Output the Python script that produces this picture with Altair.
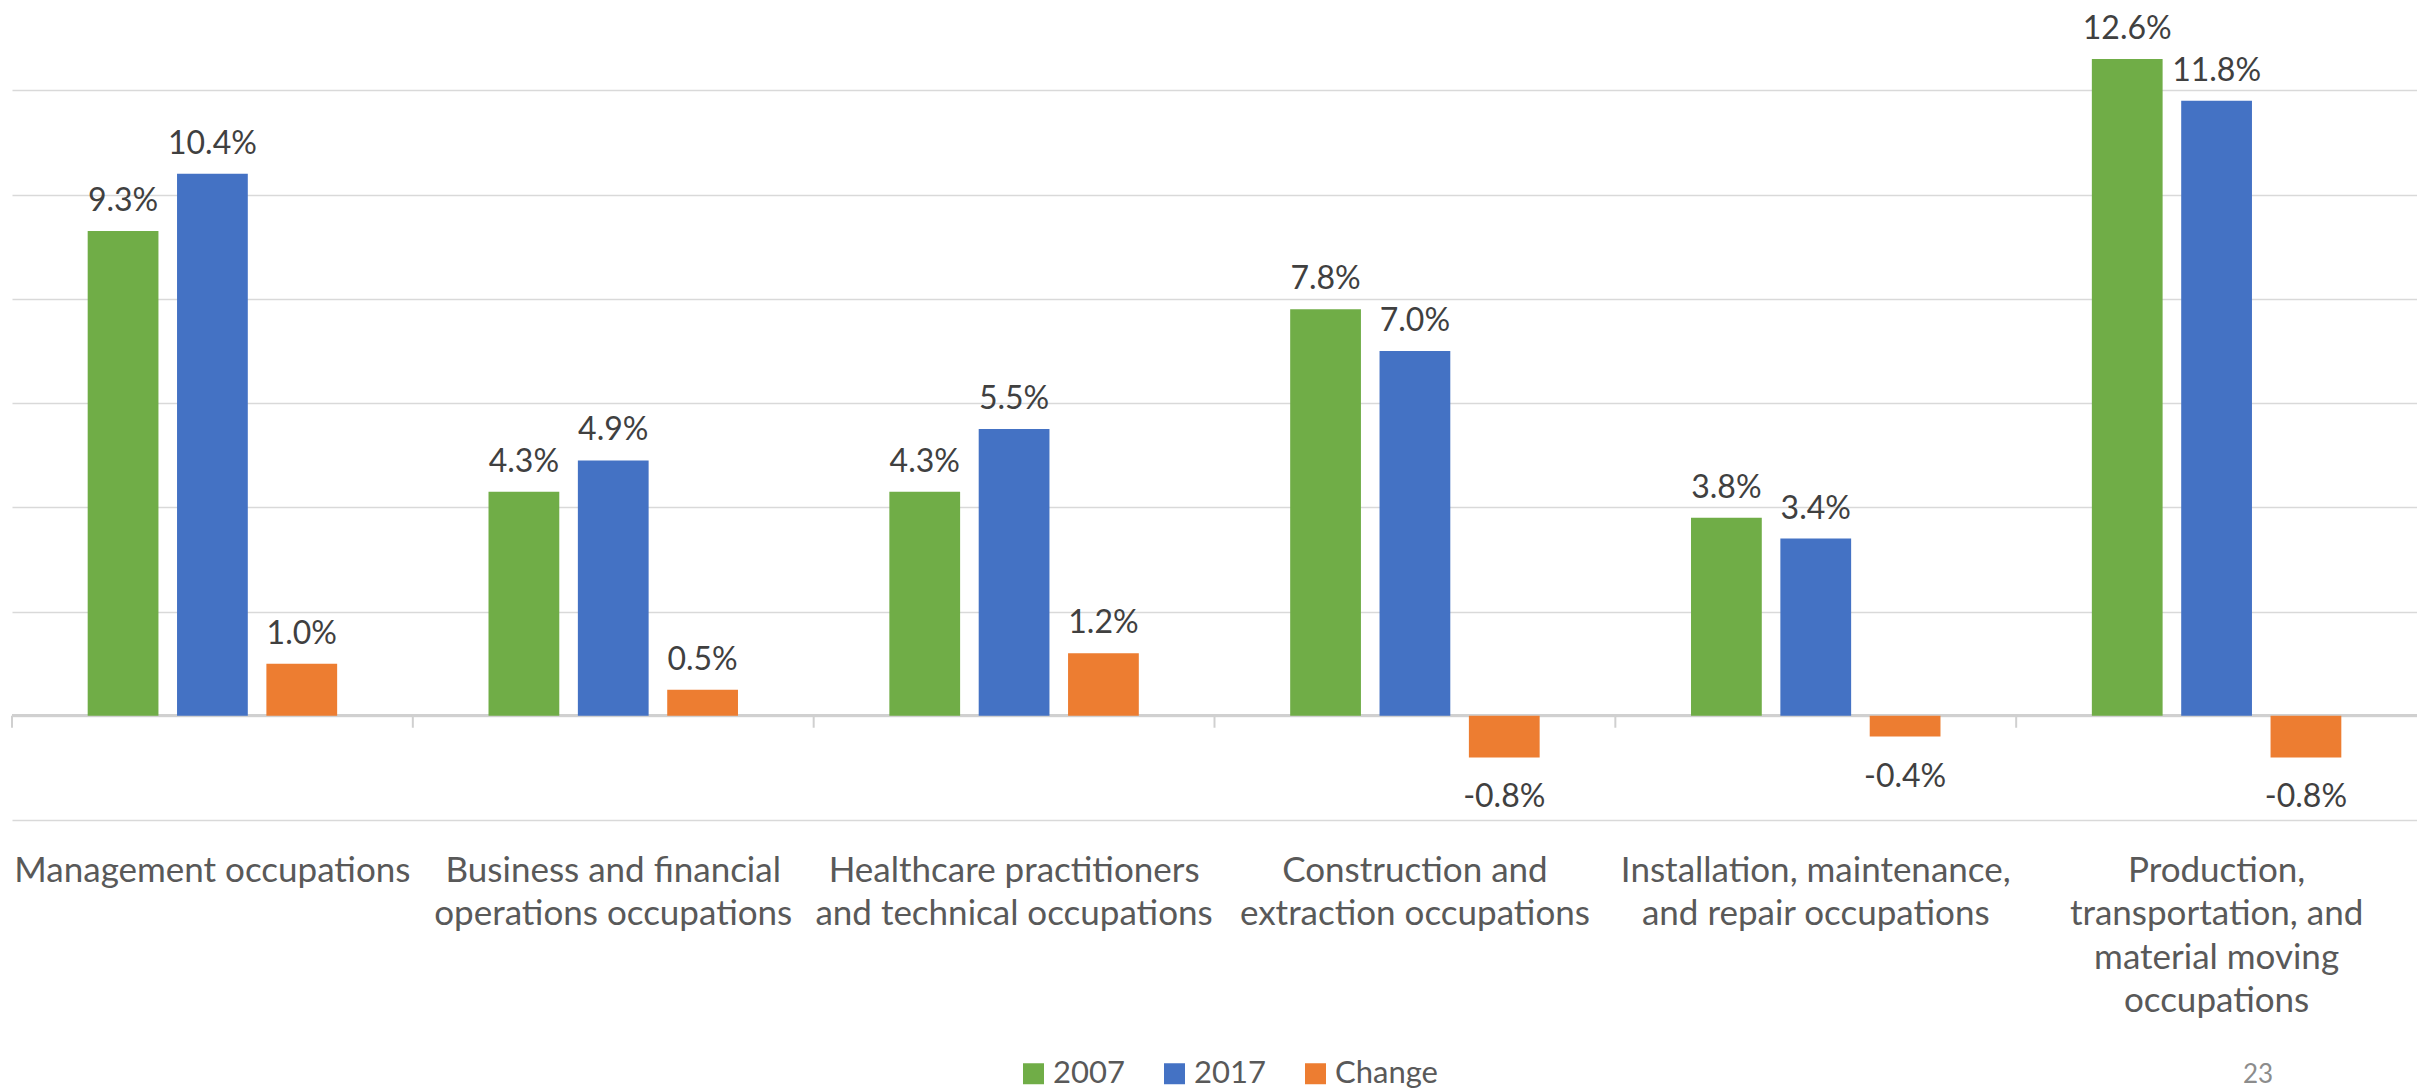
import altair as alt
import pandas as pd

# ---- data ----
categories = [
    "Management occupations",
    "Business and financial\noperations occupations",
    "Healthcare practitioners\nand technical occupations",
    "Construction and\nextraction occupations",
    "Installation, maintenance,\nand repair occupations",
    "Production,\ntransportation, and\nmaterial moving\noccupations",
]
series = ["2007", "2017", "Change"]
values_2007 = [9.3, 4.3, 4.3, 7.8, 3.8, 12.6]
values_2017 = [10.4, 4.9, 5.5, 7.0, 3.4, 11.8]
values_change = [1.0, 0.5, 1.2, -0.8, -0.4, -0.8]
colors = ["#70AD47", "#4472C4", "#ED7D31"]
page_number = "23"

rows = []
for s, vals in zip(series, [values_2007, values_2017, values_change]):
    for c, v in zip(categories, vals):
        rows.append({"category": c, "series": s, "value": v, "label": f"{v:.1f}%"})
df = pd.DataFrame(rows)
cat_df = pd.DataFrame({"category": categories})

FONT = "Lato"
ydomain = [-2, 13.58]

x_enc = alt.X("category:N", sort=categories, title=None,
              scale=alt.Scale(paddingInner=0, paddingOuter=0))
y_enc = alt.Y("value:Q", title=None,
              scale=alt.Scale(domain=ydomain, nice=False, zero=False),
              axis=alt.Axis(values=[-2, 0, 2, 4, 6, 8, 10, 12], labels=False,
                            ticks=False, domain=False, grid=True,
                            gridColor="#d9d9d9", gridWidth=1.5))
xoff = alt.XOffset("series:N", sort=series,
                   scale=alt.Scale(paddingInner=0.208, paddingOuter=0.847))

base = alt.Chart(df)

bars = base.mark_bar().encode(
    x=x_enc,
    xOffset=xoff,
    y=y_enc,
    color=alt.Color("series:N", sort=series,
                    scale=alt.Scale(domain=series, range=colors),
                    legend=alt.Legend(orient="none", direction="horizontal",
                                      legendX=1006, legendY=1050, title=None,
                                      symbolType="square", symbolSize=441,
                                      symbolStrokeWidth=0, labelFontSize=31,
                                      labelFont=FONT, labelColor="#595959",
                                      columnPadding=34, labelOffset=4)),
)

pos_labels = base.transform_filter("datum.value >= 0").mark_text(
    dy=-30, baseline="middle", fontSize=32, font=FONT, color="#404040"
).encode(x=x_enc, xOffset=xoff, y=alt.Y("value:Q", title=None), text="label:N")

neg_labels = base.transform_filter("datum.value < 0").mark_text(
    dy=40, baseline="middle", fontSize=32, font=FONT, color="#404040"
).encode(x=x_enc, xOffset=xoff, y=alt.Y("value:Q", title=None), text="label:N")

zero_line = alt.Chart(cat_df).mark_rule(color="#d0d0d0", strokeWidth=2.5).encode(
    y=alt.datum(0)
)

sep_ticks = alt.Chart(cat_df).mark_rule(color="#d0d0d0", strokeWidth=2).encode(
    x=alt.X("category:N", sort=categories, title=None, bandPosition=0),
    y=alt.datum(0),
    y2=alt.datum(-0.23),
)

page = alt.Chart(pd.DataFrame({"t": [page_number]})).mark_text(
    fontSize=26, font=FONT, color="#8c8c8c", align="center", baseline="middle"
).encode(x=alt.value(2246), y=alt.value(1067), text="t:N")

chart = alt.layer(zero_line, bars, pos_labels, neg_labels, sep_ticks, page).properties(
    width=2405, height=812,
    autosize=alt.AutoSizeParams(type="none"),
    padding={"left": 4, "top": 0, "right": 0, "bottom": 270},
).configure(font=FONT).configure_view(stroke=None).configure_axisX(
    labelAngle=0, labelFontSize=35, labelFont=FONT, labelColor="#595959",
    labelLineHeight=43.5, labelPadding=33, labelBaseline="top", labelLimit=0,
    ticks=False, domain=False, grid=False,
    labelExpr="split(datum.label, '\\n')",
)

chart.save("out.html", embed_options={"renderer": "svg", "actions": False})
